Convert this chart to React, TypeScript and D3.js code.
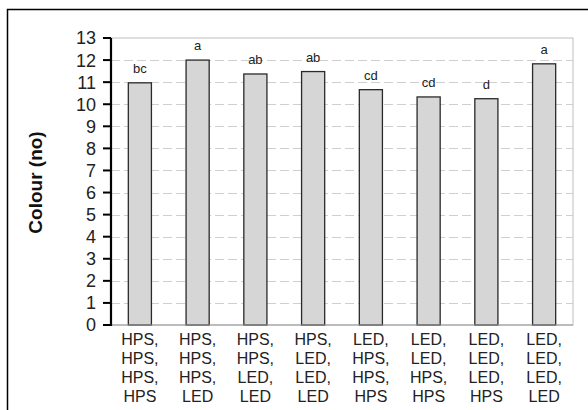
import React from "react";
import * as d3 from "d3";

// Lighting sequence per treatment, one line per stage
const treatments: string[][] = [
  ["HPS,", "HPS,", "HPS,", "HPS"],
  ["HPS,", "HPS,", "HPS,", "LED"],
  ["HPS,", "HPS,", "LED,", "LED"],
  ["HPS,", "LED,", "LED,", "LED"],
  ["LED,", "HPS,", "HPS,", "HPS"],
  ["LED,", "LED,", "HPS,", "HPS"],
  ["LED,", "LED,", "LED,", "HPS"],
  ["LED,", "LED,", "LED,", "LED"],
];
const colourValues: number[] = [10.97, 12.0, 11.37, 11.48, 10.66, 10.33, 10.25, 11.83];
const groupLetters: string[] = ["bc", "a", "ab", "ab", "cd", "cd", "d", "a"];
const yTicks: number[] = d3.range(0, 14);

const W = 588;
const H = 410;
const margin = { left: 111, right: 15, top: 38, bottom: 85 };

export default function App() {
  const ids = treatments.map((_, i) => String(i));
  const x = d3
    .scaleBand<string>()
    .domain(ids)
    .range([margin.left, W - margin.right])
    .paddingInner(0.6)
    .paddingOuter(0.3);
  const y = d3.scaleLinear().domain([0, 13]).range([H - margin.bottom, margin.top]);
  const font = "'Liberation Sans', Arial, sans-serif";
  const x0 = margin.left;
  const x1 = W - margin.right;

  return (
    <svg
      width={W}
      height={H}
      style={{ position: "absolute", left: 0, top: 0, background: "#fff" }}
      fontFamily={font}
    >
      {/* outer frame */}
      <rect x={7.5} y={9.5} width={W + 10} height={H + 10} fill="none" stroke="#000" strokeWidth={1.5} />

      {/* plot area frame */}
      <rect x={x0} y={y(13)} width={x1 - x0} height={y(0) - y(13)} fill="none" stroke="#bdbdbd" strokeWidth={1} />

      {/* grid lines */}
      {yTicks
        .filter((t) => t > 0 && t < 13)
        .map((t) => (
          <line
            key={t}
            x1={x0}
            x2={x1}
            y1={Math.round(y(t)) + 0.5}
            y2={Math.round(y(t)) + 0.5}
            stroke="#cfcfcf"
            strokeWidth={1}
            strokeDasharray="9,4"
          />
        ))}

      {/* bars */}
      {colourValues.map((v, i) => (
        <rect
          key={i}
          x={x(ids[i])!}
          y={y(v)}
          width={x.bandwidth()}
          height={y(0) - y(v)}
          fill="#d6d6d6"
          stroke="#2a2a2a"
          strokeWidth={1.3}
        />
      ))}

      {/* significance letters */}
      {colourValues.map((v, i) => (
        <text
          key={i}
          x={x(ids[i])! + x.bandwidth() / 2}
          y={y(v) - 10}
          textAnchor="middle"
          fontSize={13}
          fill="#222"
        >
          {groupLetters[i]}
        </text>
      ))}

      {/* x axis line */}
      <line x1={x0} x2={x1} y1={y(0)} y2={y(0)} stroke="#9a9a9a" strokeWidth={1} />

      {/* y axis */}
      <line x1={x0} x2={x0} y1={y(13)} y2={y(0) + 1} stroke="#000" strokeWidth={2.2} />
      {yTicks.map((t) => (
        <g key={t}>
          <line x1={x0 - 8} x2={x0} y1={y(t)} y2={y(t)} stroke="#000" strokeWidth={2} />
          <text x={x0 - 15} y={y(t)} dy="0.36em" textAnchor="end" fontSize={18} fill="#222">
            {t}
          </text>
        </g>
      ))}

      {/* category labels */}
      {treatments.map((lines, i) => (
        <text
          key={i}
          x={x(ids[i])! + x.bandwidth() / 2}
          y={y(0) + 20}
          textAnchor="middle"
          fontSize={16}
          fill="#222"
        >
          {lines.map((l, j) => (
            <tspan key={j} x={x(ids[i])! + x.bandwidth() / 2} dy={j === 0 ? 0 : 19}>
              {l}
            </tspan>
          ))}
        </text>
      ))}

      {/* y axis title */}
      <text
        transform={`translate(42, ${(y(0) + y(13)) / 2 + 1}) rotate(-90)`}
        textAnchor="middle"
        fontSize={19}
        fontWeight="bold"
        fill="#111"
      >
        Colour (no)
      </text>
    </svg>
  );
}
